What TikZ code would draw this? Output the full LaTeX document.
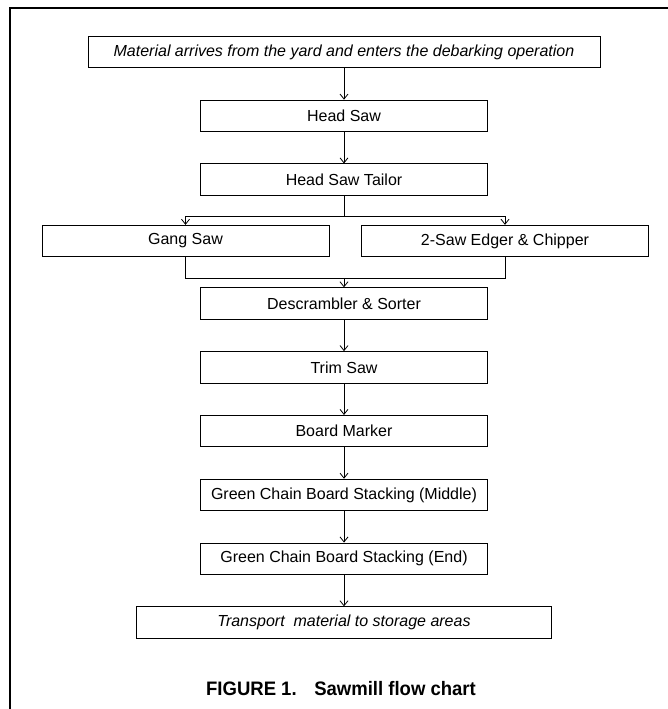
\documentclass[tikz,border=0pt]{standalone}
\usepackage{fontspec}
\setmainfont{Liberation Sans}
\usetikzlibrary{arrows.meta, positioning}
\tikzset{
    stage/.style={draw, line width=0.8pt, minimum width=287pt, minimum height=31.5pt, inner sep=0pt,
        font=\fontsize{16}{18}\selectfont},
    flow/.style={line width=0.8pt, -{Straight Barb[length=5pt,width=8pt]}},
    link/.style={line width=0.8pt}
}

\begin{document}
\begin{tikzpicture}[x=1pt, y=-1pt, node distance=31.5pt]
    % Page and frame
    \useasboundingbox (0,0) rectangle (668,709);
    \draw[line width=2.2pt] (10,740) -- (10,7.7) -- (700,7.7);

    % Main line of stages
    \node[stage, minimum width=512pt, font=\fontsize{16}{18}\selectfont\itshape] (yard) at (344,52)
        {Material arrives from the yard and enters the debarking operation};
    \node[stage, below=of yard] (headsaw) {Head Saw};
    \node[stage, below=of headsaw] (tailor) {Head Saw Tailor};

    % The two saws side by side
    \node[stage] (gang) at (185.5,241) {Gang Saw};
    \node[stage] (edger) at (505,241) {2-Saw Edger \& Chipper};

    \node[stage] (sorter) at (344,303.5) {Descrambler \& Sorter};
    \node[stage, below=of sorter] (trim) {Trim Saw};
    \node[stage, below=of trim] (marker) {Board Marker};
    \node[stage, below=of marker] (middle) {Green Chain Board Stacking (Middle)};
    \node[stage, below=of middle] (end) {Green Chain Board Stacking (End)};
    \node[stage, minimum width=415pt, font=\fontsize{16}{18}\selectfont\itshape, below=of end] (transport)
        {Transport~ material to storage areas};

    % Split and merge points
    \coordinate (split) at (344,216);
    \coordinate (merge) at (344,278);

    % Connectors
    \draw[flow] (yard) -- (headsaw);
    \draw[flow] (headsaw) -- (tailor);
    \draw[link] (tailor) -- (split);
    \draw[flow] (split) -| (gang);
    \draw[flow] (split) -| (edger);
    \draw[link] (gang) |- (merge);
    \draw[link] (edger) |- (merge);
    \draw[flow] (merge) -- (sorter);
    \draw[flow] (sorter) -- (trim);
    \draw[flow] (trim) -- (marker);
    \draw[flow] (marker) -- (middle);
    \draw[flow] (middle) -- (end);
    \draw[flow] (end) -- (transport);

    % Caption
    \node[font=\fontsize{19.5}{22}\selectfont\bfseries\addfontfeature{FakeStretch=0.95}] (caption) at (341,689)
        {FIGURE 1.\hspace{0.9em}Sawmill flow chart};
\end{tikzpicture}
\end{document}
